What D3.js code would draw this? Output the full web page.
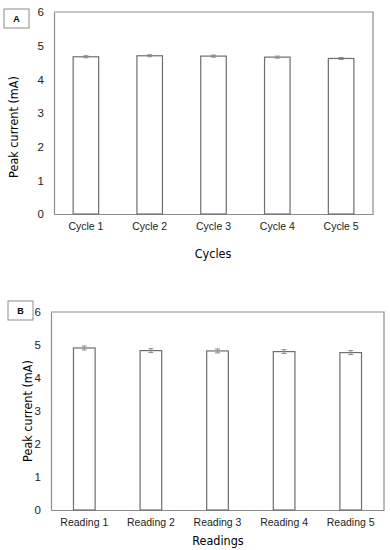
<!DOCTYPE html>
<html>
<head>
<meta charset="utf-8">
<script src="https://cdn.jsdelivr.net/npm/d3@7"></script>
<style>
  body { margin: 0; background: #fff; }
  svg { display: block; font-family: "DejaVu Sans Condensed", "DejaVu Sans", sans-serif; }
  .frame { fill: none; stroke: #8c8c8c; stroke-width: 1.2; }
  .bar { fill: #fff; stroke: #6e6e6e; stroke-width: 1.2; }
  .err { stroke: #8a8a8a; stroke-width: 1; }
  .tick text { fill: #222; }
</style>
</head>
<body>
<div id="chart"></div>
<script>
// panel A - cycles
const cycleLabels = ["Cycle 1", "Cycle 2", "Cycle 3", "Cycle 4", "Cycle 5"];
const cycleValues = [4.67, 4.70, 4.69, 4.66, 4.62];
const cycleErrors = [0.03, 0.03, 0.03, 0.03, 0.03];

// panel B - readings
const readingLabels = ["Reading 1", "Reading 2", "Reading 3", "Reading 4", "Reading 5"];
const readingValues = [4.91, 4.83, 4.82, 4.80, 4.77];
const readingErrors = [0.06, 0.06, 0.06, 0.06, 0.06];

const yTicks = [0, 1, 2, 3, 4, 5, 6];

const svg = d3.select("#chart").append("svg")
  .attr("width", 390)
  .attr("height", 550);

function drawPanel(opt) {
  var g = svg.append("g");
  var x = d3.scaleBand()
    .domain(opt.labels)
    .range([opt.left, opt.right])
    .paddingInner(opt.pad)
    .paddingOuter(opt.pad / 2);
  var y = d3.scaleLinear().domain([0, 6]).range([opt.bottom, opt.top]);

  // frame (top + right)
  g.append("path")
    .attr("class", "frame")
    .attr("d", `M ${opt.left} ${opt.top} H ${opt.right} V ${opt.bottom}`);

  var yAxis = g.append("g")
    .attr("transform", `translate(${opt.left},0)`)
    .call(d3.axisLeft(y).tickValues(yTicks).tickFormat(d3.format("d")).tickSize(0).tickPadding(10));
  yAxis.select(".domain").attr("stroke", "#8c8c8c").attr("stroke-width", 1.2);
  yAxis.selectAll("text").style("font-size", "11.5px");

  var xAxis = g.append("g")
    .attr("transform", `translate(0,${opt.bottom})`)
    .call(d3.axisBottom(x).tickSize(0).tickPadding(opt.xpad));
  xAxis.select(".domain").attr("stroke", "#8c8c8c").attr("stroke-width", 1.2);
  xAxis.selectAll("text").style("font-size", "10.5px");

  g.selectAll(".bar")
    .data(opt.values)
    .join("rect")
    .attr("class", "bar")
    .attr("x", (d, i) => x(opt.labels[i]))
    .attr("width", x.bandwidth())
    .attr("y", d => y(d))
    .attr("height", d => y(0) - y(d));

  // error bars
  var cap = 2.5;
  opt.values.forEach(function(v, i) {
    var cx = x(opt.labels[i]) + x.bandwidth() / 2;
    var e = opt.errors[i];
    g.append("path")
      .attr("class", "err")
      .attr("fill", "none")
      .attr("d", `M ${cx} ${y(v + e)} V ${y(v - e)}
        M ${cx - cap} ${y(v + e)} H ${cx + cap}
        M ${cx - cap} ${y(v - e)} H ${cx + cap}`);
  });

  // axis titles
  g.append("text")
    .attr("x", opt.xTitleX)
    .attr("y", opt.xTitleY)
    .attr("text-anchor", "middle")
    .style("font-size", "12.5px")
    .text(opt.xTitle);

  g.append("text")
    .attr("transform", `translate(${opt.yTitleX},${opt.yTitleY}) rotate(-90)`)
    .attr("text-anchor", "middle")
    .attr("dy", "0.35em")
    .style("font-size", "12.5px")
    .text("Peak current (mA)");

  // panel letter box
  g.append("rect")
    .attr("x", opt.boxX).attr("y", opt.boxY)
    .attr("width", 25).attr("height", 19)
    .attr("fill", "#fff").attr("stroke", "#8c8c8c");
  g.append("text")
    .attr("x", opt.boxX + 12.5).attr("y", opt.boxY + 9.5)
    .attr("dy", "0.35em")
    .attr("text-anchor", "middle")
    .style("font-size", "9px")
    .style("font-weight", "bold")
    .style("font-family", "Liberation Sans, Arial, sans-serif")
    .text(opt.letter);
}

drawPanel({
  labels: cycleLabels, values: cycleValues, errors: cycleErrors,
  left: 54, right: 373, top: 12, bottom: 214, pad: 0.6, xpad: 9,
  xTitle: "Cycles", xTitleX: 213, xTitleY: 258,
  yTitleX: 14, yTitleY: 127,
  letter: "A", boxX: 4, boxY: 9
});

drawPanel({
  labels: readingLabels, values: readingValues, errors: readingErrors,
  left: 51, right: 384, top: 312, bottom: 510, pad: 0.675, xpad: 9,
  xTitle: "Readings", xTitleX: 218, xTitleY: 545,
  yTitleX: 28, yTitleY: 411,
  letter: "B", boxX: 8, boxY: 301
});
</script>
</body>
</html>
